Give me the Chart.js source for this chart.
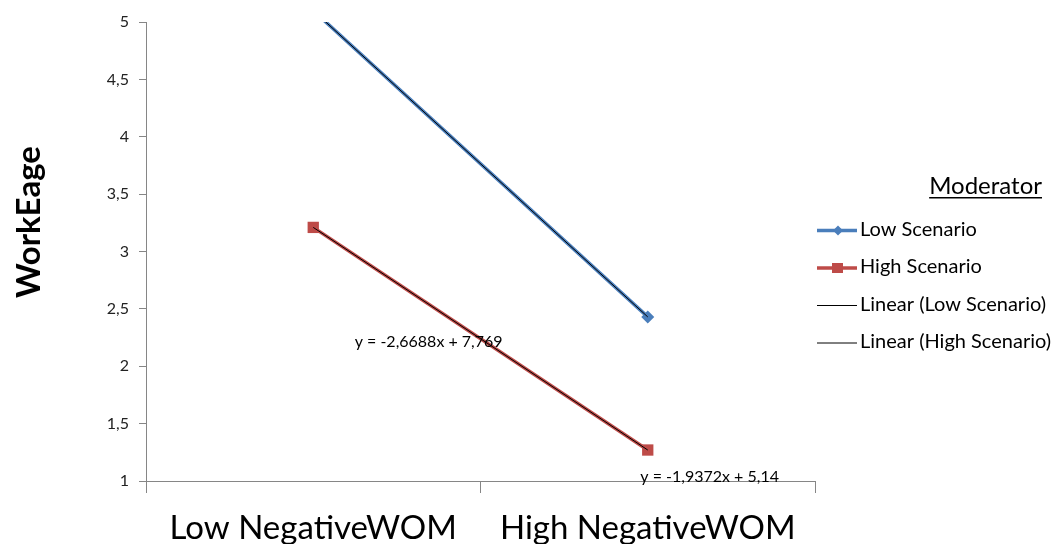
<!DOCTYPE html>
<html>
<head>
<meta charset="utf-8">
<script src="https://cdn.jsdelivr.net/npm/chart.js@4.4.1/dist/chart.umd.min.js"></script>
<style>
  html, body { margin: 0; padding: 0; background: #fff; }
  #wrap { width: 1053px; height: 544px; }
</style>
</head>
<body>
<div id="wrap"><canvas id="chart" width="1053" height="544"></canvas></div>
<script>
const categories = ['Low NegativeWOM', 'High NegativeWOM'];
const lowScenario = [5.10, 2.43];
const highScenario = [3.21, 1.27];
const lowTrend = [5.10, 2.43];
const highTrend = [3.21, 1.27];
const seriesNames = ['Low Scenario', 'High Scenario', 'Linear (Low Scenario)', 'Linear (High Scenario)'];
const equations = [
  { text: 'y = -2,6688x + 7,769', index: 0.345, value: 2.21 },
  { text: 'y = -1,9372x + 5,14', index: 1.185, value: 1.04 }
];

const FONT = 'Lato, "Liberation Sans", sans-serif';
const BLUE = '#4A7EBB';
const RED = '#BE4B48';

// y axis title, equations and legend drawn by hand to sit where Excel put them
const extras = {
  id: 'extras',
  afterDraw(chart) {
    const ctx = chart.ctx;
    const x = chart.scales.x;
    const y = chart.scales.y;
    ctx.save();

    ctx.fillStyle = '#000';
    ctx.font = 'bold 33px ' + FONT;
    ctx.textAlign = 'center';
    ctx.textBaseline = 'middle';
    ctx.translate(29, 222);
    ctx.rotate(-Math.PI / 2);
    ctx.fillText('WorkEage', 0, 0);
    ctx.setTransform(1, 0, 0, 1, 0, 0);

    ctx.font = '16px ' + FONT;
    ctx.textAlign = 'center';
    ctx.textBaseline = 'middle';
    equations.forEach((eq) => {
      ctx.fillText(eq.text, x.getPixelForValue(eq.index), y.getPixelForValue(eq.value));
    });

    ctx.font = '24px ' + FONT;
    ctx.textAlign = 'right';
    ctx.textBaseline = 'alphabetic';
    ctx.fillText('Moderator', 1042, 194);
    const tw = ctx.measureText('Moderator').width;
    ctx.fillRect(1042 - tw, 197, tw, 1.5);

    ctx.font = '20px ' + FONT;
    ctx.textAlign = 'left';
    ctx.textBaseline = 'middle';
    chart.data.datasets.forEach((ds, i) => {
      const yy = 230.5 + i * 37.5;
      ctx.strokeStyle = ds.borderColor;
      ctx.lineWidth = ds.borderWidth;
      ctx.beginPath();
      ctx.moveTo(817, yy);
      ctx.lineTo(857, yy);
      ctx.stroke();
      if (ds.pointRadius) {
        ctx.fillStyle = ds.borderColor;
        ctx.beginPath();
        if (ds.pointStyle === 'rectRot') {
          ctx.moveTo(838, yy - 5); ctx.lineTo(843, yy); ctx.lineTo(838, yy + 5); ctx.lineTo(833, yy);
        } else {
          ctx.rect(832, yy - 5, 11, 10);
        }
        ctx.fill();
      }
      ctx.fillStyle = '#000';
      ctx.fillText(ds.label, 860, yy - 1);
    });
    ctx.restore();
  }
};

new Chart(document.getElementById('chart'), {
  type: 'line',
  data: {
    labels: categories,
    datasets: [
      { label: seriesNames[0], data: lowScenario, borderColor: BLUE, backgroundColor: BLUE, borderWidth: 3.5,
        pointStyle: 'rectRot', pointRadius: 6.5, pointBorderWidth: 0, order: 2 },
      { label: seriesNames[1], data: highScenario, borderColor: RED, backgroundColor: RED, borderWidth: 3.5,
        pointStyle: 'rect', pointRadius: 8, pointBorderWidth: 0, order: 3 },
      { label: seriesNames[2], data: lowTrend, borderColor: '#000', borderWidth: 1, pointRadius: 0, order: 0 },
      { label: seriesNames[3], data: highTrend, borderColor: '#000', borderWidth: 1, pointRadius: 0, order: 1 }
    ]
  },
  options: {
    responsive: false,
    animation: false,
    layout: { padding: { top: 22, right: 238, left: 0, bottom: 0 } },
    plugins: { legend: { display: false }, tooltip: { enabled: false } },
    scales: {
      x: {
        offset: true,
        grid: { offset: true, drawOnChartArea: false, color: '#868686', tickLength: 12 },
        border: { color: '#868686' },
        ticks: { color: '#000', font: { family: FONT, size: 33 }, padding: 16, maxRotation: 0 },
        afterFit(scale) { scale.height = 63; }
      },
      y: {
        min: 1,
        max: 5,
        grid: { drawOnChartArea: false, color: '#868686', tickLength: 7 },
        border: { color: '#868686' },
        ticks: {
          stepSize: 0.5,
          color: '#222',
          padding: 10,
          font: { family: FONT, size: 16 },
          callback: (v) => String(v).replace('.', ',')
        },
        afterFit(scale) { scale.width = 146; }
      }
    }
  },
  plugins: [extras]
});
</script>
</body>
</html>
